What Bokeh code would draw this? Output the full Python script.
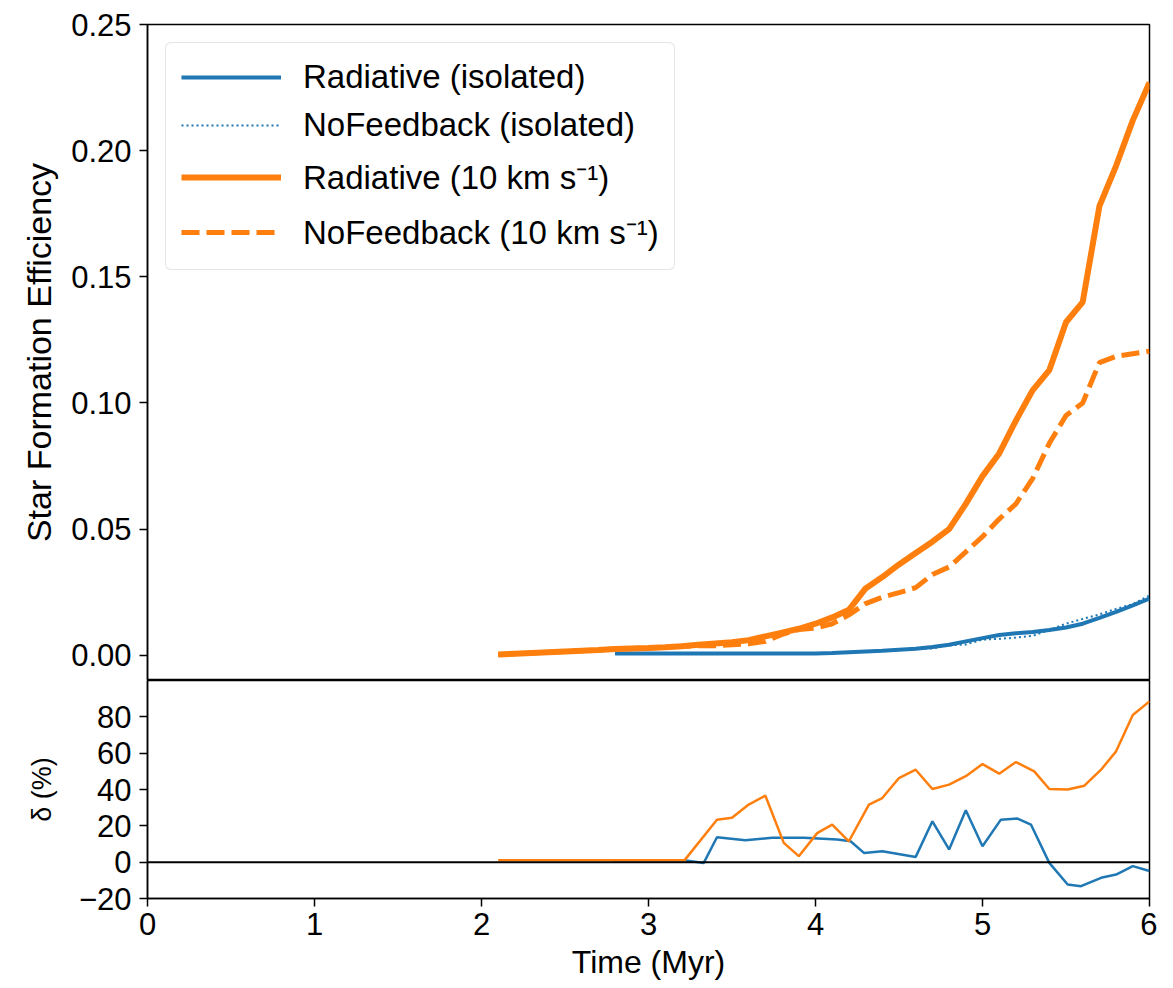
from bokeh.plotting import figure
from bokeh.layouts import column
from bokeh.models import FixedTicker, Span, Range1d, PrintfTickFormatter
from bokeh.embed import file_html
from bokeh.resources import INLINE

FONT = "Liberation Sans"
BLUE = "#1f77b4"
ORANGE = "#ff7f0e"

# ---- top panel data (Star Formation Efficiency) ----
t_10 = [2.1, 2.2, 2.3, 2.4, 2.5, 2.6, 2.7, 2.8, 2.9, 3.0,
        3.1, 3.2, 3.3, 3.4, 3.5, 3.6, 3.7, 3.8, 3.9, 4.0,
        4.1, 4.2, 4.3, 4.4, 4.5, 4.6, 4.7, 4.8, 4.9, 5.0,
        5.1, 5.2, 5.3, 5.4, 5.5, 5.6, 5.7, 5.8, 5.9, 6.0]
rad_10 = [0.0003, 0.0006, 0.0009, 0.0012, 0.0015, 0.0018, 0.0021, 0.0025, 0.0027, 0.0029,
          0.0032, 0.0036, 0.0042, 0.0047, 0.0052, 0.0060, 0.0075, 0.0090, 0.0105, 0.0125,
          0.0150, 0.0180, 0.0265, 0.0310, 0.0360, 0.0405, 0.0450, 0.0500, 0.0600, 0.0710,
          0.0800, 0.0930, 0.1050, 0.1130, 0.1320, 0.1400, 0.1780, 0.1940, 0.2120, 0.2270]
nofb_10 = [0.0003, 0.0006, 0.0009, 0.0012, 0.0015, 0.0018, 0.0021, 0.0025, 0.0027, 0.0029,
           0.0032, 0.0036, 0.0038, 0.0038, 0.0042, 0.0046, 0.0055, 0.0083, 0.0102, 0.0108,
           0.0125, 0.0160, 0.0205, 0.0230, 0.0248, 0.0268, 0.0320, 0.0350, 0.0410, 0.0470,
           0.0540, 0.0600, 0.0700, 0.0840, 0.0950, 0.1000, 0.1160, 0.1185, 0.1195, 0.1205]

t_iso = [2.8, 2.9, 3.0, 3.1, 3.2, 3.3, 3.4, 3.5, 3.6, 3.7,
         3.8, 3.9, 4.0, 4.1, 4.2, 4.3, 4.4, 4.5, 4.6, 4.7,
         4.8, 4.9, 5.0, 5.1, 5.2, 5.3, 5.4, 5.5, 5.6, 5.7,
         5.8, 5.9, 6.0]
rad_iso = [0.0007, 0.0007, 0.0007, 0.0007, 0.0007, 0.0007, 0.0007, 0.0007, 0.0007, 0.0007,
           0.0007, 0.0007, 0.0007, 0.0009, 0.0012, 0.0015, 0.0018, 0.0022, 0.0026, 0.0033,
           0.0042, 0.0055, 0.0068, 0.0080, 0.0087, 0.0092, 0.0100, 0.0110, 0.0125, 0.0148,
           0.0172, 0.0198, 0.0225]
nofb_iso = [0.0007, 0.0007, 0.0007, 0.0007, 0.0007, 0.0007, 0.00062, 0.00062, 0.00062, 0.00062,
            0.00062, 0.00062, 0.00062, 0.00080, 0.00110, 0.0014, 0.0017, 0.0021, 0.0025, 0.0027,
            0.0039, 0.0043, 0.0062, 0.0065, 0.0070, 0.0077, 0.0100, 0.0125, 0.0144, 0.0162,
            0.0184, 0.0203, 0.0237]

# ---- bottom panel data (delta, %) ----
t_d10 = [2.1, 3.215, 3.41, 3.50, 3.60, 3.70, 3.81, 3.90, 4.01, 4.10,
         4.20, 4.32, 4.40, 4.50, 4.60, 4.70, 4.80, 4.90, 5.00, 5.10,
         5.20, 5.31, 5.40, 5.51, 5.61, 5.71, 5.80, 5.90, 6.00]
d_10 = [1.0, 1.0, 23.4, 24.4, 31.7, 36.6, 10.6, 3.3, 16.0, 20.7,
        11.5, 31.7, 35.3, 46.3, 50.9, 40.3, 42.7, 47.3, 54.0, 48.7,
        55.1, 50.0, 40.3, 40.0, 42.1, 50.9, 61.0, 81.0, 88.5]

t_diso = [2.79, 3.215, 3.33, 3.41, 3.58, 3.74, 3.93, 4.13, 4.21, 4.29,
          4.40, 4.60, 4.70, 4.80, 4.90, 5.00, 5.11, 5.21, 5.29, 5.40,
          5.51, 5.59, 5.71, 5.80, 5.90, 6.00]
d_iso = [1.0, 1.0, -0.5, 13.7, 12.0, 13.4, 13.4, 12.5, 11.5, 5.1,
         6.0, 2.9, 22.5, 7.0, 28.6, 8.8, 23.4, 24.0, 20.7, -0.4,
         -12.3, -13.2, -8.6, -6.8, -2.2, -4.9]

sfe_ticks = [0.0, 0.05, 0.10, 0.15, 0.20, 0.25]
delta_ticks = [-20, 0, 20, 40, 60, 80]
time_ticks = [0, 1, 2, 3, 4, 5, 6]

labels = ["Radiative (isolated)", "NoFeedback (isolated)",
          "Radiative (10 km s\u207b\u00b9)", "NoFeedback (10 km s\u207b\u00b9)"]


def style_axis(ax, size="31px"):
    ax.major_label_text_font = FONT
    ax.major_label_text_font_size = size
    ax.major_label_text_color = "black"
    ax.axis_label_text_font = FONT
    ax.axis_label_text_font_style = "normal"
    ax.axis_label_text_color = "black"
    ax.major_tick_in = 0
    ax.major_tick_out = 8
    ax.major_tick_line_width = 1.5
    ax.minor_tick_line_color = None
    ax.axis_line_width = 1.5


x_range = Range1d(0, 6)

p1 = figure(frame_width=1002, frame_height=656, x_range=x_range,
            y_range=Range1d(-0.01, 0.25), output_backend="svg",
            toolbar_location=None, min_border_left=147, min_border_right=8,
            min_border_top=24, min_border_bottom=0)
p1.xaxis.visible = False
p1.grid.visible = False
p1.outline_line_color = "black"
p1.outline_line_width = 1.5
p1.outline_line_alpha = 1.0
p1.yaxis.ticker = FixedTicker(ticks=sfe_ticks)
p1.yaxis.formatter = PrintfTickFormatter(format="%.2f")
style_axis(p1.yaxis[0])
p1.yaxis.axis_label = "Star Formation Efficiency"
p1.yaxis.axis_label_text_font_size = "34px"
p1.yaxis.major_label_standoff = 8
p1.yaxis.axis_label_standoff = 10

p1.line(t_iso, rad_iso, color=BLUE, line_width=4, legend_label=labels[0])
p1.line(t_iso, nofb_iso, color=BLUE, line_width=2, line_dash="2 3",
        legend_label=labels[1])
p1.line(t_10, rad_10, color=ORANGE, line_width=6, legend_label=labels[2])
p1.line(t_10, nofb_10, color=ORANGE, line_width=5, line_dash="18 7",
        legend_label=labels[3])

lg = p1.legend[0]
lg.location = "top_left"
lg.margin = 18
lg.padding = 15
lg.spacing = 10
lg.glyph_width = 100
lg.glyph_height = 30
lg.label_height = 30
lg.label_standoff = 22
lg.label_text_font = FONT
lg.label_text_font_size = "33px"
lg.label_text_color = "black"
lg.border_line_color = "#cccccc"
lg.border_line_width = 1.5
lg.border_radius = 6
lg.background_fill_alpha = 0.8

p2 = figure(frame_width=1002, frame_height=218, x_range=x_range,
            y_range=Range1d(-20, 100), output_backend="svg",
            toolbar_location=None, min_border_left=147, min_border_right=8,
            min_border_top=0, min_border_bottom=10)
p2.grid.visible = False
p2.outline_line_color = "black"
p2.outline_line_width = 1.5
p2.outline_line_alpha = 1.0
p2.yaxis.ticker = FixedTicker(ticks=delta_ticks)
p2.yaxis.major_label_overrides = {-20: "\u221220"}
style_axis(p2.yaxis[0])
p2.yaxis.axis_label = "\u03b4 (%)"
p2.yaxis.axis_label_text_font_size = "27px"
p2.yaxis.major_label_standoff = 8
p2.yaxis.axis_label_standoff = 19
p2.xaxis.ticker = FixedTicker(ticks=time_ticks)
style_axis(p2.xaxis[0])
p2.xaxis.axis_label = "Time (Myr)"
p2.xaxis.axis_label_text_font_size = "32px"
p2.xaxis.major_label_standoff = 6
p2.xaxis.axis_label_standoff = 6

p2.add_layout(Span(location=0, dimension="width", line_color="black",
                   line_width=2))
p2.line(t_diso, d_iso, color=BLUE, line_width=2.5)
p2.line(t_d10, d_10, color=ORANGE, line_width=2.5)

layout = column(p1, p2)
open("out.html", "w").write(file_html(layout, INLINE))
